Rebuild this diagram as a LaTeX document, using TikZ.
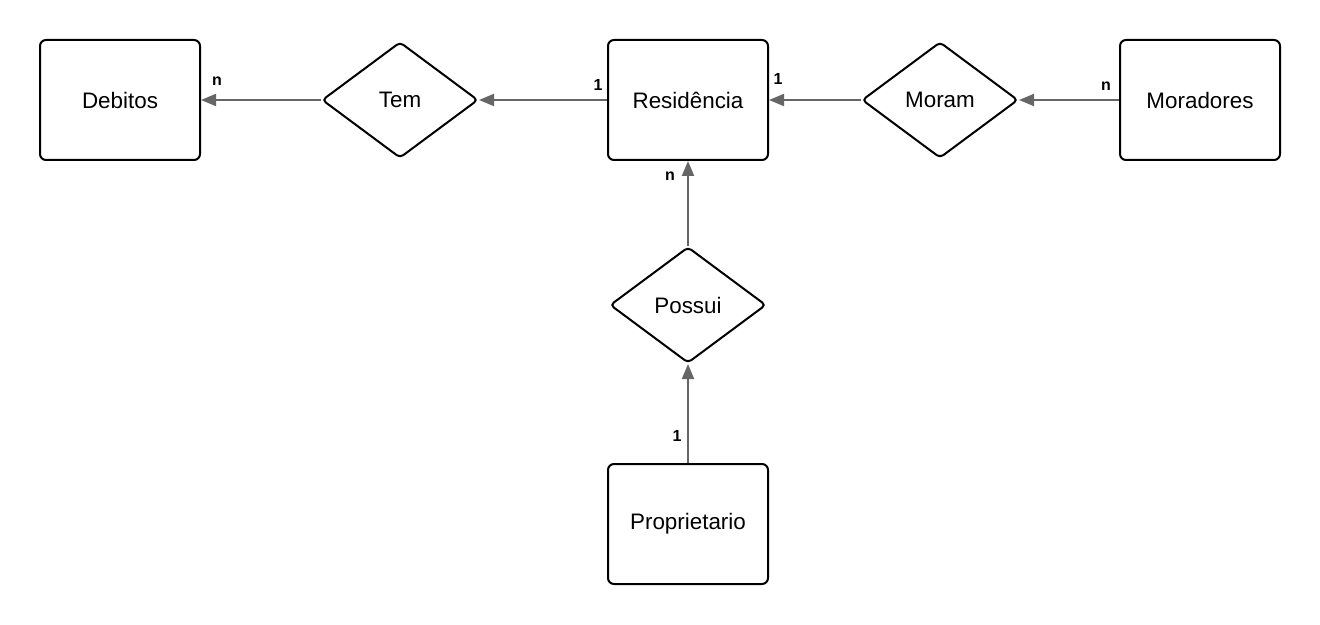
\documentclass[tikz,border=0pt]{standalone}
\usepackage{fontspec}
\setmainfont{Liberation Sans}
\usetikzlibrary{shapes.geometric,arrows.meta}
\definecolor{linegray}{HTML}{666666}
\begin{document}
\begin{tikzpicture}[x=0.5pt,y=-0.5pt,
  entity/.style={draw,line width=1pt,rounded corners=3pt,
    minimum width=80pt,minimum height=60pt,font=\fontsize{11.2}{13}\selectfont},
  relation/.style={draw,diamond,line width=1pt,rounded corners=2pt,inner sep=0pt,
    minimum width=78pt,minimum height=58pt,font=\fontsize{11.2}{13}\selectfont},
  link/.style={draw=linegray,line width=1pt,-{Triangle[length=7.5pt,width=6pt]}},
  card/.style={inner sep=0pt,font=\bfseries\fontsize{8}{9}\selectfont}]
\useasboundingbox (0,0) rectangle (1320,625);
% entities and relations
\node[entity]   (debitos)      at (120,100) {Debitos};
\node[relation] (tem)          at (400,100) {Tem};
\node[entity]   (residencia)   at (688,100) {Residência};
\node[relation] (moram)        at (940,100) {Moram};
\node[entity]   (moradores)    at (1200,100) {Moradores};
\node[relation] (possui)       at (688,305) {Possui};
\node[entity]   (proprietario) at (688,524) {Proprietario};
% connectors
\draw[link] (tem) -- (debitos);
\draw[link] (residencia) -- (tem);
\draw[link] (moram) -- (residencia);
\draw[link] (moradores) -- (moram);
\draw[link] (possui) -- (residencia);
\draw[link] (proprietario) -- (possui);
% cardinalities
\node[card] (cDebitos)   at (217,81)  {n};
\node[card] (cResTem)    at (598,85)  {1};
\node[card] (cResMoram)  at (778,79)  {1};
\node[card] (cMoradores) at (1106,86) {n};
\node[card] (cResPossui) at (670,176) {n};
\node[card] (cProp)      at (677,436) {1};
\end{tikzpicture}
\end{document}
